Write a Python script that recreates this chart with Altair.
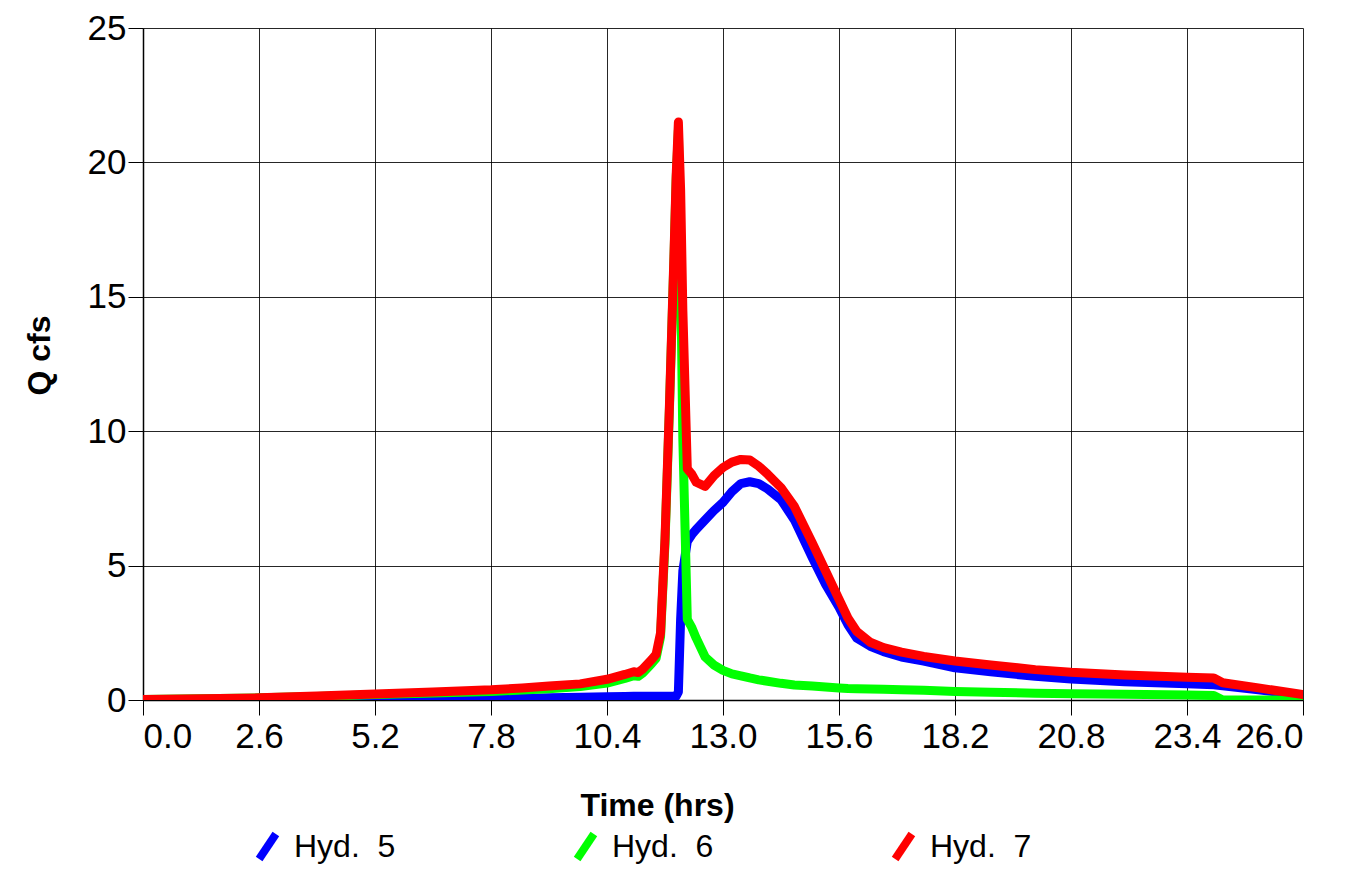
import altair as alt
import pandas as pd

# Time (hrs)
time = [0.0, 1.3, 2.6, 3.9, 5.2, 6.5, 7.8, 8.5, 9.1, 9.8, 10.4, 10.8, 11.0, 11.1, 11.2,
        11.4, 11.5, 11.6, 11.7, 11.8, 11.9, 11.95, 12.0, 12.05, 12.1, 12.2, 12.3, 12.4,
        12.6, 12.8, 13.0, 13.2, 13.4, 13.6, 13.8, 14.0, 14.3, 14.6, 15.0, 15.3, 15.6,
        15.8, 16.0, 16.3, 16.6, 17.0, 17.5, 18.2, 19.0, 20.0, 20.8, 22.0, 23.4, 24.0,
        24.2, 25.0, 26.0]

# Hyd. 5 (blue)
hyd5 = [0.0, 0.0, 0.0, 0.0, 0.01, 0.02, 0.04, 0.06, 0.08, 0.10, 0.12, 0.13, 0.14, 0.14, 0.14,
        0.14, 0.14, 0.14, 0.14, 0.14, 0.14, 0.14, 0.3, 3.0, 4.8, 5.9, 6.15, 6.35,
        6.7, 7.05, 7.35, 7.75, 8.05, 8.12, 8.05, 7.85, 7.45, 6.7, 5.3, 4.3, 3.45,
        2.8, 2.3, 2.0, 1.8, 1.6, 1.45, 1.2, 1.05, 0.88, 0.78, 0.68, 0.6, 0.57,
        0.53, 0.38, 0.18]

# Hyd. 6 (green)
hyd6 = [0.02, 0.05, 0.08, 0.13, 0.2, 0.26, 0.32, 0.37, 0.42, 0.5, 0.63, 0.8, 0.9, 0.88, 1.0,
        1.35, 1.55, 2.35, 5.85, 10.85, 16.35, 19.35, 21.2, 16.0, 9.7, 3.0, 2.7, 2.3,
        1.6, 1.3, 1.1, 0.97, 0.9, 0.82, 0.75, 0.7, 0.62, 0.56, 0.52, 0.48, 0.45,
        0.43, 0.42, 0.41, 0.4, 0.38, 0.36, 0.32, 0.29, 0.25, 0.23, 0.21, 0.19, 0.17,
        0.0, 0.0, 0.0]

# Hyd. 7 (red)
hyd7 = [0.02, 0.05, 0.08, 0.15, 0.22, 0.3, 0.38, 0.45, 0.52, 0.6, 0.77, 0.95, 1.05, 1.02, 1.15,
        1.5, 1.7, 2.5, 6.0, 11.0, 16.5, 19.5, 21.5, 19.0, 14.5, 8.6, 8.4, 8.1,
        7.95, 8.35, 8.65, 8.85, 8.95, 8.93, 8.7, 8.4, 7.9, 7.2, 5.85, 4.8, 3.75,
        3.05, 2.55, 2.15, 1.95, 1.78, 1.62, 1.45, 1.3, 1.13, 1.03, 0.93, 0.85, 0.82,
        0.64, 0.45, 0.2]

series_names = ["Hyd. \u00a05", "Hyd. \u00a06", "Hyd. \u00a07"]
series_colors = ["#0000ff", "#00ff00", "#ff0000"]
x_ticks = [0.0, 2.6, 5.2, 7.8, 10.4, 13.0, 15.6, 18.2, 20.8, 23.4, 26.0]
y_ticks = [0, 5, 10, 15, 20, 25]

rows = []
for name, vals in zip(series_names, [hyd5, hyd6, hyd7]):
    for t, v in zip(time, vals):
        rows.append({"time": t, "q": v, "series": name})
df = pd.DataFrame(rows)

FONT = "Liberation Sans"

chart = alt.Chart(df).mark_line(
    strokeWidth=9, strokeCap="round", strokeJoin="round", clip=True
).encode(
    x=alt.X("time:Q",
            scale=alt.Scale(domain=[0, 26], nice=False, zero=False),
            axis=alt.Axis(values=x_ticks, format=".1f", title="Time (hrs)",
                          titleX=514, titleY=115, titleBaseline="alphabetic",
                          titleAnchor="middle", titleAlign="center")),
    y=alt.Y("q:Q",
            scale=alt.Scale(domain=[0, 25], nice=False),
            axis=alt.Axis(values=y_ticks, format="d", title="Q cfs",
                          titleX=-94, titleY=327, titleBaseline="alphabetic",
                          titleAngle=-90, titleAlign="center")),
    color=alt.Color("series:N",
                    scale=alt.Scale(domain=series_names, range=series_colors),
                    legend=alt.Legend(title=None, orient="none", legendX=108, legendY=802,
                                      direction="horizontal", columns=3,
                                      symbolType="M-0.67,1L0.67,-1", symbolSize=625,
                                      symbolStrokeWidth=8, symbolFillColor="transparent",
                                      labelFontSize=32, labelFont=FONT, labelColor="black",
                                      labelOffset=10, columnPadding=165, padding=0,
                                      labelLimit=300)),
).properties(
    width=1160, height=672,
    autosize=alt.AutoSizeParams(type="none"),
    padding={"left": 135, "top": 20, "right": 42, "bottom": 166},
).configure_view(
    stroke=None
).configure_axis(
    grid=True, gridColor="#000000", gridWidth=1, gridOpacity=0.85,
    domainColor="#000000", domainWidth=1.5,
    tickColor="#000000", tickSize=15, tickWidth=1,
    labelFont=FONT, labelFontSize=35, labelColor="#000000",
    titleFont=FONT, titleFontSize=32, titleFontWeight="bold", titleColor="#000000",
).configure_axisX(
    labelPadding=4, labelAngle=0
).configure_axisY(
    labelPadding=2
)

chart.save("out.html", embed_options={"renderer": "svg", "actions": False})
